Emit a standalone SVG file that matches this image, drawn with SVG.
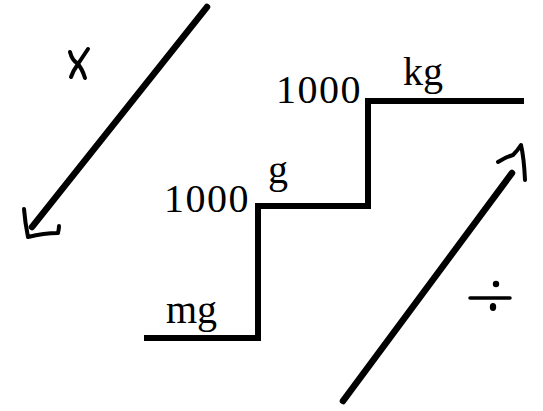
<svg xmlns="http://www.w3.org/2000/svg" width="543" height="411" viewBox="0 0 543 411">
<style>
.st{fill:none;stroke:#000;stroke-width:6;stroke-linejoin:miter;stroke-linecap:square}
.ar{fill:none;stroke:#000;stroke-width:6.5;stroke-linecap:round}
.hd{fill:none;stroke:#000;stroke-width:4;stroke-linecap:round;stroke-linejoin:round}
.t{font-family:"Liberation Serif","Times New Roman",serif;font-size:40px;fill:#000}
.n{letter-spacing:1.5px}
</style>
<rect width="543" height="411" fill="#fff"/>
<g id="stairs">
<path class="st" d="M147 338 H258 V206 H368 V101 H521"/>
</g>
<g id="labels">
<text class="t n" x="276" y="103">1000</text>
<text class="t" x="403" y="85">kg</text>
<text class="t n" x="164" y="212">1000</text>
<text class="t" x="268" y="183">g</text>
<text class="t" x="166" y="323">mg</text>
</g>
<g id="multiply-arrow">
<path class="ar" d="M207 7 L32 227"/>
<path class="hd" d="M24 209 Q25 222 28 237 Q44 233 58 233 Q59 229 59 226"/>
<path class="hd" stroke-width="4.5" d="M88 49 L78 64 Q73 71 71 77 M70 52 Q72 60 77 63 Q82 68 85 78"/>
</g>
<g id="divide-arrow">
<path class="ar" d="M343 401 L512 173"/>
<path class="hd" d="M498 162 Q506 157 513 155 Q518 150 521 145 Q524 158 525 180"/>
<circle cx="496" cy="284" r="3.2"/>
<path d="M470 298 H510" stroke="#000" stroke-width="3.5" stroke-linecap="round"/>
<ellipse cx="493" cy="307" rx="3.2" ry="4"/>
</g>
</svg>
